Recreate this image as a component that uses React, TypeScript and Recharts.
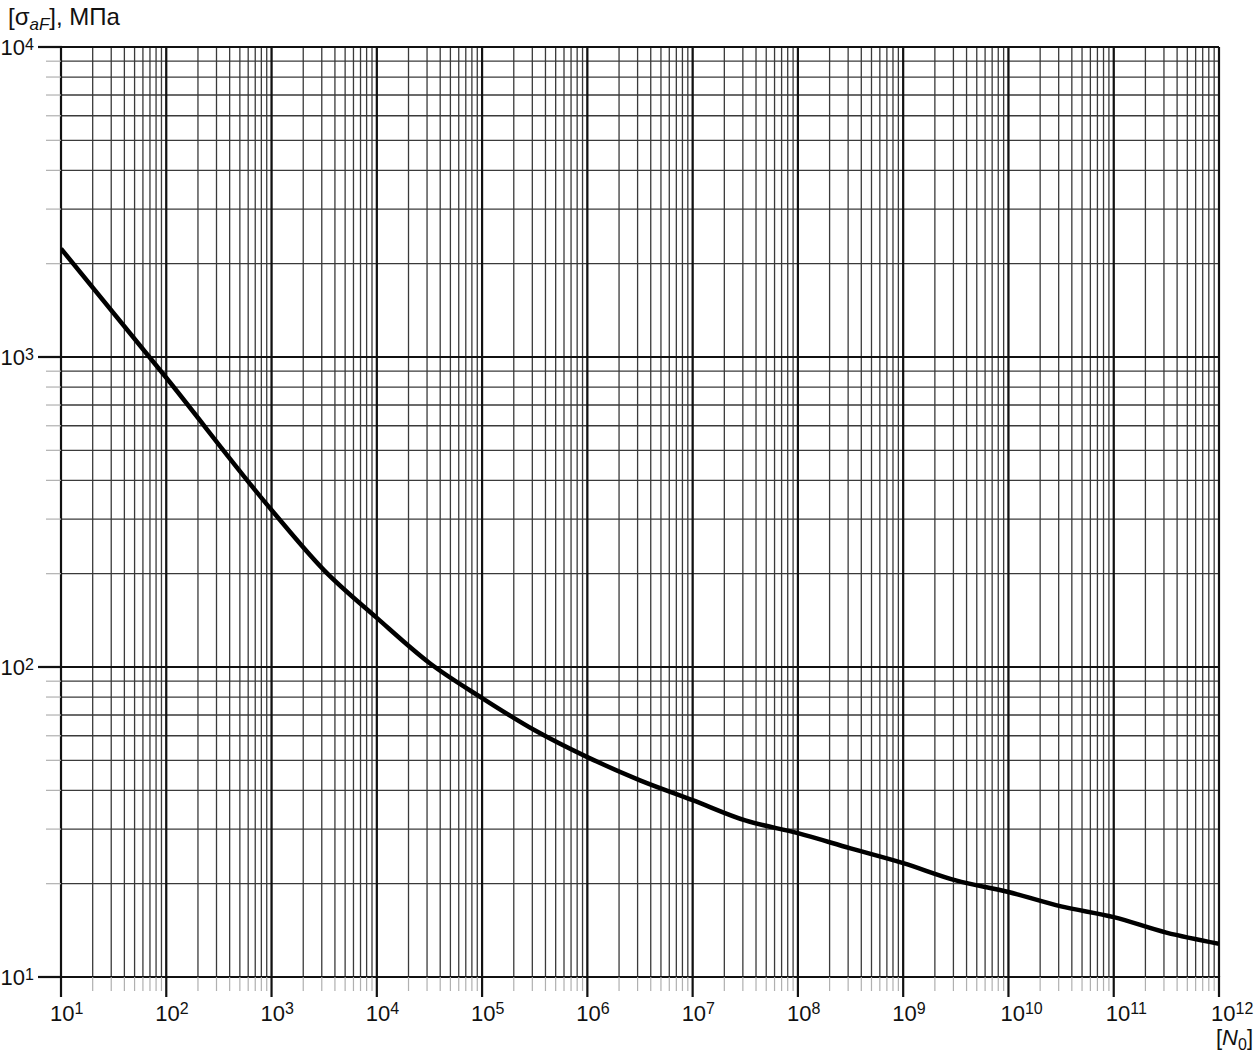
import { CartesianGrid, Line, LineChart, ReferenceLine, XAxis, YAxis } from "recharts";

const FONT = "'Liberation Sans', Arial, sans-serif";

// number of cycles and allowable stress
const cycles = [
  1e1, 1e2, 1e3, 3.162e3, 1e4, 3.162e4, 1e5, 3.162e5, 1e6, 3.162e6, 1e7,
  3.162e7, 1e8, 3.162e8, 1e9, 3.162e9, 1e10, 3.162e10, 1e11, 3.162e11, 1e12,
];
const stress = [
  2236, 857, 321, 205, 144, 103, 79.4, 62.5, 51.2, 43.1, 37.2, 32.0, 29.1,
  26.0, 23.3, 20.5, 18.8, 16.9, 15.6, 13.9, 12.8,
];

const xDecades = [1, 2, 3, 4, 5, 6, 7, 8, 9, 10, 11, 12];
const yDecades = [1, 2, 3, 4];
const minorSteps = [2, 3, 4, 5, 6, 7, 8, 9];

const data = cycles.map((n, i) => ({ n, s: stress[i] }));

function majors(decades: number[]) {
  return decades.map((d) => Math.pow(10, d));
}
function minors(decades: number[]) {
  const out: number[] = [];
  decades.slice(0, -1).forEach((d) => {
    minorSteps.forEach((m) => out.push(m * Math.pow(10, d)));
  });
  return out;
}

const xMajor = majors(xDecades);
const xMinor = minors(xDecades);
const yMajor = majors(yDecades);
const yMinor = minors(yDecades);

function expOf(v: number) {
  const e = Math.log10(v);
  return Math.abs(e - Math.round(e)) < 1e-6 ? Math.round(e) : null;
}

function XTick(props: any) {
  const x = Number(props.x);
  const y = Number(props.y);
  const e = expOf(props.payload.value);
  if (e === null) {
    return <rect x={x - 0.6} y={y} width={1.2} height={14} fill="#b0b0b0" />;
  }
  return (
    <g>
      <rect x={x - 1.1} y={y - 1} width={2.2} height={21} fill="#111" />
      <text x={x - (e >= 10 ? 8 : 11)} y={y + 44} fontSize={22} fill="#111" fontFamily={FONT}>
        10
        <tspan fontSize={16} dy={-7}>
          {e}
        </tspan>
      </text>
    </g>
  );
}

function YTick(props: any) {
  const x = Number(props.x);
  const y = Number(props.y);
  const e = expOf(props.payload.value);
  if (e === null) {
    return <rect x={x - 15} y={y - 0.6} width={15} height={1.2} fill="#b0b0b0" />;
  }
  return (
    <g>
      <rect x={x - 23} y={y - 1.1} width={24} height={2.2} fill="#111" />
      <text x={x - 27} y={y + 8} fontSize={22} fill="#111" fontFamily={FONT} textAnchor="end">
        10
        <tspan fontSize={16} dy={-5}>
          {e}
        </tspan>
      </text>
    </g>
  );
}

export default function App() {
  return (
    <div
      style={{
        position: "absolute",
        left: 0,
        top: 0,
        width: 1254,
        height: 1053,
        background: "#fff",
        fontFamily: FONT,
        color: "#111",
      }}
    >
      <LineChart
        width={1254}
        height={1053}
        data={data}
        margin={{ top: 47, right: 35, left: 0, bottom: 0 }}
      >
        <CartesianGrid stroke="#3a3a3a" strokeWidth={1.3} />
        <XAxis
          dataKey="n"
          type="number"
          scale="log"
          domain={[10, 1e12]}
          ticks={[...xMajor, ...xMinor]}
          interval={0}
          tick={(p: any) => <XTick {...p} />}
          tickLine={false}
          tickSize={0}
          tickMargin={0}
          axisLine={false}
          height={76}
          allowDataOverflow
        />
        <YAxis
          type="number"
          scale="log"
          domain={[10, 1e4]}
          ticks={[...yMajor, ...yMinor]}
          interval={0}
          tick={(p: any) => <YTick {...p} />}
          tickLine={false}
          tickSize={0}
          tickMargin={0}
          axisLine={false}
          width={61}
          allowDataOverflow
        />
        {xMajor.map((v) => (
          <ReferenceLine key={"xM" + v} x={v} stroke="#111" strokeWidth={2.2} />
        ))}
        {yMajor.map((v) => (
          <ReferenceLine key={"yM" + v} y={v} stroke="#111" strokeWidth={2.2} />
        ))}
        <Line
          dataKey="s"
          type="monotone"
          stroke="#000"
          strokeWidth={4.5}
          dot={false}
          isAnimationActive={false}
        />
      </LineChart>
      <div
        style={{
          position: "absolute",
          left: 8,
          top: 5,
          fontSize: 24,
          lineHeight: "24px",
          whiteSpace: "nowrap",
        }}
      >
        [σ
        <span style={{ fontSize: 17, fontStyle: "italic", position: "relative", top: 5 }}>aF</span>
        ], МПа
      </div>
      <div
        style={{
          position: "absolute",
          right: 1,
          top: 1027,
          fontSize: 22,
          lineHeight: "22px",
          whiteSpace: "nowrap",
        }}
      >
        [<i>N</i>
        <span style={{ fontSize: 16, position: "relative", top: 5 }}>0</span>]
      </div>
    </div>
  );
}
